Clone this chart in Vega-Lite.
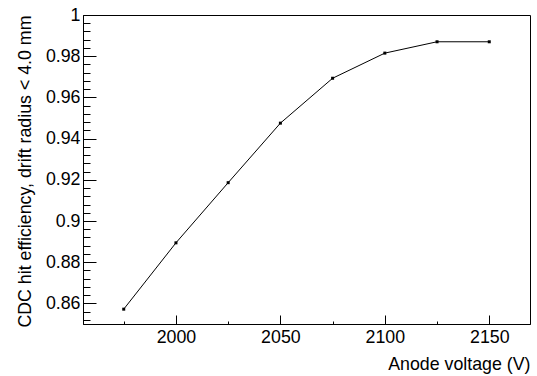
{
  "$schema": "https://vega.github.io/schema/vega-lite/v6.json",
  "width": 447,
  "height": 309,
  "autosize": {"type": "none"},
  "padding": {"left": 83, "top": 15, "right": 7, "bottom": 52},
  "background": "white",
  "config": {
    "view": {"stroke": "#000", "strokeWidth": 1},
    "font": "Liberation Sans",
    "axis": {
      "domainColor": "#000",
      "tickColor": "#000",
      "labelColor": "#000",
      "titleColor": "#000",
      "labelFont": "Liberation Sans",
      "titleFont": "Liberation Sans",
      "labelFontSize": 17.8,
      "titleFontSize": 17.8,
      "titleFontWeight": "normal",
      "grid": false
    }
  },
  "data": {
    "values": [
      {"voltage": 1975, "eff": 0.8572},
      {"voltage": 2000, "eff": 0.8894},
      {"voltage": 2025, "eff": 0.9186},
      {"voltage": 2050, "eff": 0.9475},
      {"voltage": 2075, "eff": 0.9693},
      {"voltage": 2100, "eff": 0.9815},
      {"voltage": 2125, "eff": 0.9870},
      {"voltage": 2150, "eff": 0.9870}
    ]
  },
  "encoding": {
    "x": {
      "field": "voltage",
      "type": "quantitative",
      "scale": {"domain": [1955.5, 2169.5], "nice": false, "zero": false},
      "axis": {
        "title": "Anode voltage (V)",
        "values": [1975, 2000, 2025, 2050, 2075, 2100, 2125, 2150],
        "labelExpr": "datum.value % 50 === 0 ? format(datum.value, 'd') : ''",
        "tickSize": {"condition": {"test": "datum.value % 50 === 0", "value": -9}, "value": -3},
        "labelPadding": 13,
        "titleX": 447,
        "titleY": 45,
        "titleAlign": "right",
        "titleBaseline": "alphabetic",
        "titleAnchor": "end"
      }
    },
    "y": {
      "field": "eff",
      "type": "quantitative",
      "scale": {"domain": [0.85, 1.0], "nice": false, "zero": false},
      "axis": {
        "title": "CDC hit efficiency, drift radius < 4.0 mm",
        "values": [0.852, 0.856, 0.86, 0.864, 0.868, 0.872, 0.876, 0.88, 0.884, 0.888, 0.892, 0.896, 0.9, 0.904, 0.908, 0.912, 0.916, 0.92, 0.924, 0.928, 0.932, 0.936, 0.94, 0.944, 0.948, 0.952, 0.956, 0.96, 0.964, 0.968, 0.972, 0.976, 0.98, 0.984, 0.988, 0.992, 0.996, 1.0],
        "labelExpr": "abs(datum.value*50 - round(datum.value*50)) < 0.001 ? format(datum.value, '.2~f') : ''",
        "tickSize": {"condition": {"test": "abs(datum.value*50 - round(datum.value*50)) < 0.001", "value": -13}, "value": -7},
        "labelPadding": 16,
        "labelFlush": false,
        "titleAngle": 270,
        "titleX": -58,
        "titleY": 0,
        "titleAlign": "right",
        "titleBaseline": "middle",
        "titleAnchor": "end"
      }
    }
  },
  "layer": [
    {"mark": {"type": "line", "color": "#000", "strokeWidth": 1}},
    {"mark": {"type": "point", "shape": "square", "filled": true, "color": "#000", "size": 9, "opacity": 1}}
  ]
}
